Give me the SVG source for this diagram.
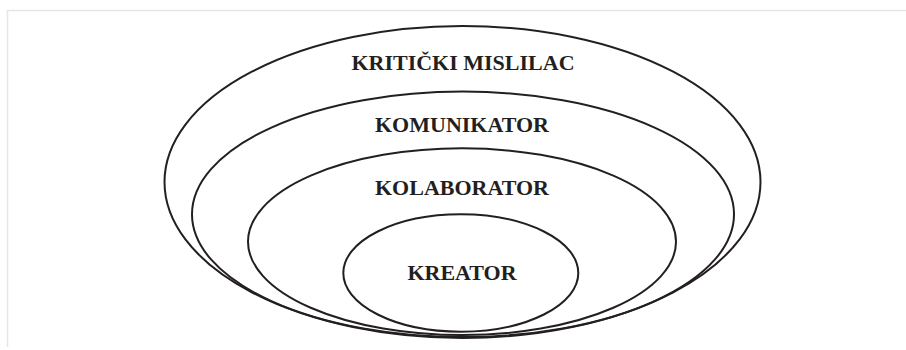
<svg xmlns="http://www.w3.org/2000/svg" width="906" height="350" viewBox="0 0 906 350">
<style>
.frame{fill:none;stroke:#e6e6e6;stroke-width:1.5}
.ring{fill:none;stroke:#231f20;stroke-width:2}
.lbl{font-family:"Liberation Serif","Times New Roman",serif;font-weight:bold;font-size:22px;fill:#231f20;text-anchor:middle}
</style>
<rect width="906" height="350" fill="#ffffff"/>
<path class="frame" d="M7.5,347 V10.5 H906"/>
<g id="kriticki-mislilac">
<ellipse class="ring" cx="462.5" cy="182" rx="298" ry="156"/>
<text class="lbl" x="463" y="70">KRITIČKI MISLILAC</text>
</g>
<g id="komunikator">
<ellipse class="ring" cx="463" cy="214.3" rx="271" ry="122.7"/>
<text class="lbl" x="462" y="132">KOMUNIKATOR</text>
</g>
<g id="kolaborator">
<ellipse class="ring" cx="462" cy="241.7" rx="214" ry="93.4"/>
<text class="lbl" x="462" y="194.5">KOLABORATOR</text>
</g>
<g id="kreator">
<ellipse class="ring" cx="460.8" cy="273" rx="117.5" ry="58.7"/>
<text class="lbl" x="462" y="280">KREATOR</text>
</g>
<g id="connectors"></g>
</svg>
